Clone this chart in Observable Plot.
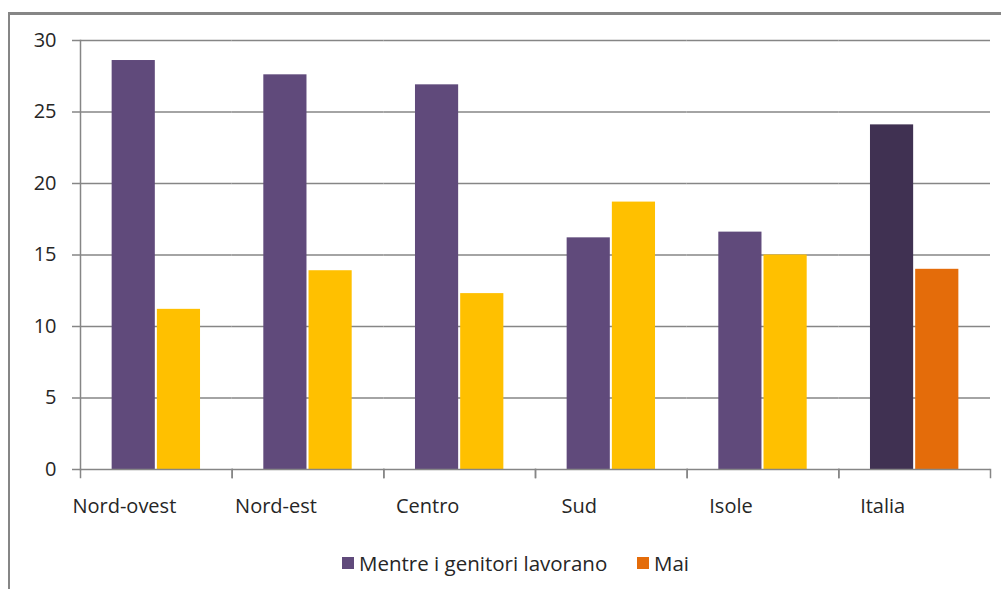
<!DOCTYPE html>
<html>
<head>
<meta charset="utf-8">
<script src="https://cdn.jsdelivr.net/npm/d3@7"></script>
<script src="https://cdn.jsdelivr.net/npm/@observablehq/plot@0.6"></script>
<style>
  html, body { margin: 0; padding: 0; background: #fff; }
  body { width: 1001px; height: 589px; position: relative; overflow: hidden; font-family: "Open Sans", sans-serif; }
  #frame { position: absolute; left: 8px; top: 12px; width: 1100px; height: 700px; border-top: 3px solid #868686; border-left: 2px solid #868686; box-sizing: border-box; }
  #chart { position: absolute; left: 0; top: 0; }
  .item { position: absolute; top: 549px; display: flex; align-items: center; font-size: 20.5px; color: #262626; white-space: nowrap; }
  .sw { display: inline-block; width: 12px; height: 12px; margin-right: 5px; }
</style>
</head>
<body>
<div id="frame"></div>
<div id="chart"></div>
<div id="legend"></div>
<script>
const regions = ["Nord-ovest", "Nord-est", "Centro", "Sud", "Isole", "Italia"];
const seriesNames = ["Mentre i genitori lavorano", "Mai"];
const mentre = [28.6, 27.6, 26.9, 16.2, 16.6, 24.1];
const mai = [11.2, 13.9, 12.3, 18.7, 15.0, 14.0];
const yTicks = [0, 5, 10, 15, 20, 25, 30];

const colors = {
  "Mentre i genitori lavorano": "#604A7B",
  "Mai": "#FFC000"
};
const totalColors = {
  "Mentre i genitori lavorano": "#403152",
  "Mai": "#E46C0A"
};
const legendColors = ["#604A7B", "#E46C0A"];
const legendLeft = [342, 637];

const data = [];
regions.forEach((r, i) => {
  data.push({region: r, series: seriesNames[0], value: mentre[i]});
  data.push({region: r, series: seriesNames[1], value: mai[i]});
});

const grid = "#868686";

const chart = Plot.plot({
  width: 1001,
  height: 530,
  marginLeft: 80,
  marginRight: 11,
  marginTop: 40,
  marginBottom: 61,
  style: {fontFamily: "'Open Sans', sans-serif", fontSize: "20px", color: "#262626", background: "transparent"},
  fx: {domain: regions, padding: 0, round: false, label: null, axis: null},
  x: {domain: seriesNames, paddingInner: 0.045, paddingOuter: 0.7, round: false, axis: null},
  y: {domain: [0, 30], axis: null},
  marks: [
    Plot.gridY(yTicks.filter(t => t > 0), {stroke: grid, strokeOpacity: 1, strokeWidth: 1.5}),
    Plot.barY(data, {
      fx: "region", x: "series", y: "value",
      fill: d => d.region === "Italia" ? totalColors[d.series] : colors[d.series]
    }),
    Plot.ruleY([0], {stroke: grid, strokeWidth: 1.5}),
    Plot.frame({anchor: "left", stroke: grid, strokeWidth: 1.5, insetTop: 429, insetBottom: -8}),
    Plot.frame({anchor: "right", stroke: grid, strokeWidth: 1.5, insetTop: 429, insetBottom: -8}),
    Plot.frame({anchor: "left", facetAnchor: "left", stroke: grid, strokeWidth: 1.5}),
    Plot.axisFx({domain: regions, anchor: "bottom", tickSize: 0, tickPadding: 29, dx: -32, fontSize: 20, fill: "#262626", label: null}),
    Plot.axisY({ticks: yTicks, anchor: "left", tickSize: 8, tickPadding: 16, stroke: grid, strokeWidth: 1.5, fontSize: 20, fill: "#262626", label: null, tickFormat: d => String(d)})
  ]
});
document.getElementById("chart").appendChild(chart);

const legend = document.getElementById("legend");
seriesNames.forEach((s, i) => {
  const item = document.createElement("span");
  item.className = "item";
  item.style.left = legendLeft[i] + "px";
  const sw = document.createElement("span");
  sw.className = "sw";
  sw.style.background = legendColors[i];
  item.appendChild(sw);
  item.appendChild(document.createTextNode(s));
  legend.appendChild(item);
});
</script>
</body>
</html>
